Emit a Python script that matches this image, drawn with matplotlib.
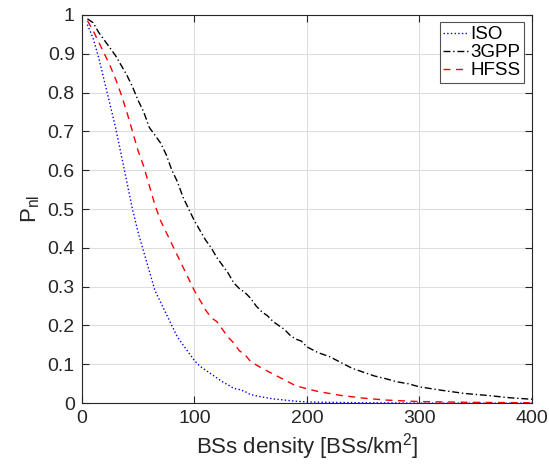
import matplotlib.pyplot as plt

plt.rcParams['font.family'] = ['Liberation Sans', 'DejaVu Sans']
plt.rcParams['mathtext.fontset'] = 'custom'
plt.rcParams['mathtext.rm'] = 'Liberation Sans'

# BS density samples [BSs/km^2]
x_iso = [5, 10, 15, 20, 25, 30, 35, 40, 45, 50, 55, 60, 65, 70, 75, 80, 85, 90,
         95, 100, 105, 110, 115, 120, 125, 130, 135, 140, 145, 150, 160, 170,
         180, 190, 200, 220, 250, 300, 400]
p_iso = [0.975, 0.94, 0.89, 0.83, 0.77, 0.71, 0.64, 0.57, 0.50, 0.44, 0.39, 0.34,
         0.29, 0.26, 0.23, 0.20, 0.17, 0.15, 0.13, 0.11, 0.095, 0.085, 0.075,
         0.065, 0.055, 0.047, 0.038, 0.035, 0.030, 0.022, 0.016, 0.011, 0.008,
         0.005, 0.003, 0.002, 0.001, 0.0, 0.0]

x_hfss = [5, 10, 15, 20, 25, 30, 35, 40, 45, 50, 55, 60, 65, 70, 75, 80, 85, 90,
          95, 100, 105, 110, 115, 120, 125, 130, 135, 140, 145, 150, 160, 170,
          180, 190, 200, 210, 220, 230, 250, 270, 300, 350, 400]
p_hfss = [0.985, 0.96, 0.93, 0.90, 0.87, 0.835, 0.795, 0.75, 0.70, 0.65, 0.61,
          0.56, 0.51, 0.47, 0.44, 0.41, 0.38, 0.35, 0.32, 0.29, 0.265, 0.24,
          0.22, 0.21, 0.19, 0.17, 0.155, 0.135, 0.125, 0.107, 0.09, 0.075, 0.06,
          0.045, 0.037, 0.03, 0.025, 0.02, 0.013, 0.008, 0.004, 0.002, 0.001]

x_3gpp = [5, 10, 15, 20, 25, 30, 35, 40, 45, 50, 55, 60, 65, 70, 75, 80, 85, 90,
          95, 100, 105, 110, 115, 120, 125, 130, 135, 140, 145, 150, 155, 160,
          165, 170, 175, 180, 185, 190, 195, 200, 210, 220, 230, 240, 250, 260,
          270, 280, 290, 300, 320, 340, 360, 380, 400]
p_3gpp = [0.99, 0.98, 0.955, 0.935, 0.915, 0.895, 0.87, 0.845, 0.815, 0.78, 0.75,
          0.71, 0.69, 0.67, 0.64, 0.60, 0.57, 0.53, 0.50, 0.47, 0.445, 0.42,
          0.40, 0.375, 0.355, 0.335, 0.31, 0.295, 0.285, 0.27, 0.25, 0.235,
          0.225, 0.21, 0.20, 0.19, 0.175, 0.165, 0.16, 0.145, 0.13, 0.12, 0.105,
          0.09, 0.08, 0.07, 0.063, 0.055, 0.05, 0.042, 0.033, 0.025, 0.02,
          0.014, 0.01]

fig = plt.figure(figsize=(5.49, 4.65), dpi=100)
ax = fig.add_axes([0.149, 0.133, 0.82, 0.835])

ax.plot(x_iso, p_iso, color='blue', linestyle=':', linewidth=1.0, label='ISO')
ax.plot(x_3gpp, p_3gpp, color='black', linestyle='-.', linewidth=1.0,
        dashes=(5, 2, 1, 2), label='3GPP')
ax.plot(x_hfss, p_hfss, color='red', linestyle='--', linewidth=1.0,
        dashes=(5, 4), label='HFSS')

ax.set_xlim(0, 400)
ax.set_ylim(0, 1)
ax.set_xticks([0, 100, 200, 300, 400])
ax.set_yticks([i / 10 for i in range(11)])
ax.set_yticklabels(['0', '0.1', '0.2', '0.3', '0.4', '0.5', '0.6', '0.7',
                    '0.8', '0.9', '1'])
ax.grid(True, color='#dedede', linewidth=0.8)
ax.set_axisbelow(True)
ax.tick_params(direction='in', top=True, right=True, labelsize=14,
               colors='#262626', length=5, pad=5)
for s in ax.spines.values():
    s.set_color('#262626')
    s.set_linewidth(0.8)

ax.set_xlabel('BSs density [BSs/km$^2$]', fontsize=16, color='#262626',
              labelpad=3)
ax.set_ylabel(r'P$_{\mathrm{nl}}$', fontsize=16, color='#262626', labelpad=4)

leg = ax.legend(loc='upper right', fontsize=13.5, frameon=True, fancybox=False,
                handlelength=1.3, handletextpad=0.15, borderpad=0.2,
                labelspacing=0.05, borderaxespad=0.4)
leg.get_frame().set_edgecolor('#262626')
leg.get_frame().set_linewidth(0.8)

fig.savefig('out.png', dpi=100)
